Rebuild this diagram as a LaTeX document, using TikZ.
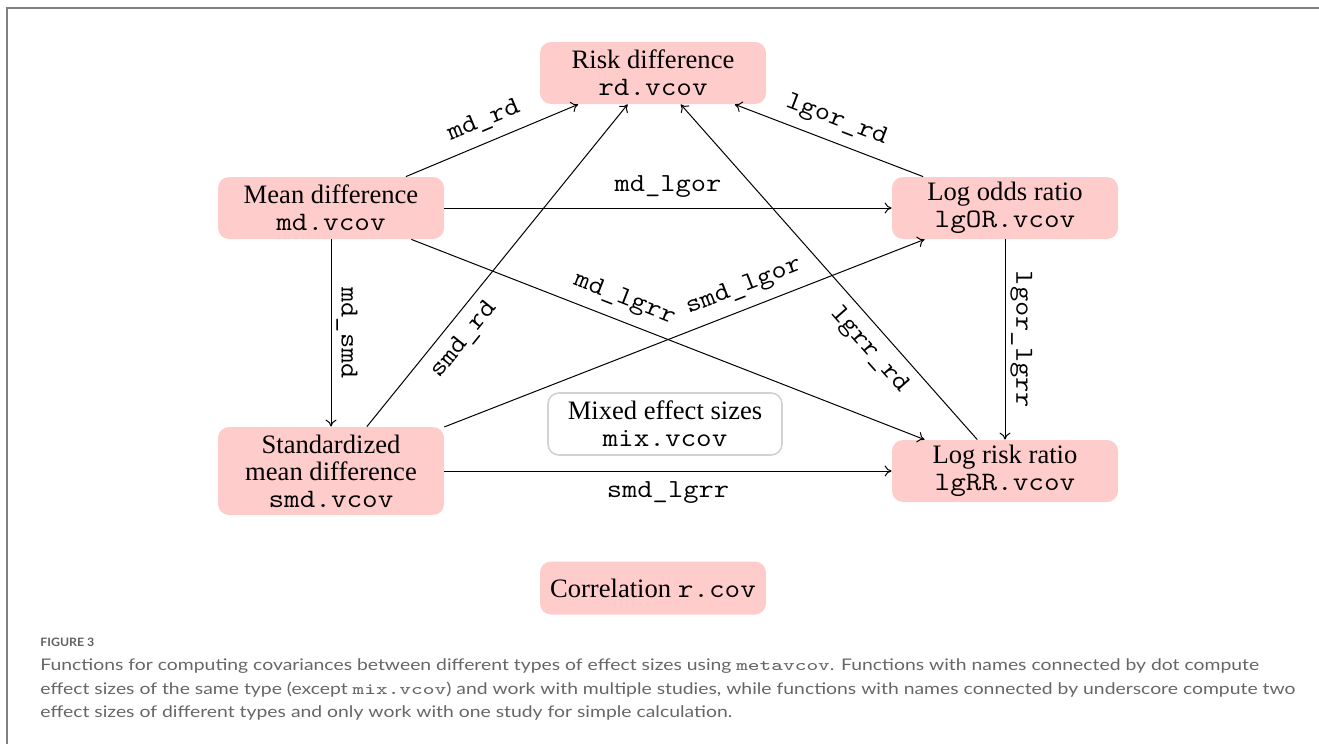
\documentclass[tikz,border=0pt]{standalone}
\usepackage{fontspec}
\usepackage{graphicx}
\setmainfont{Liberation Serif}
\setmonofont{Latin Modern Mono}[FakeStretch=1.14]
\newfontfamily\capfont{Lato}
\usetikzlibrary{arrows.meta}
\newlength\capwidth
\newlength\figwidth
\newcommand\captextsize{\capfont\fontsize{8}{10}\selectfont}
\newcommand\figtextsize{\capfont\bfseries\fontsize{5.8}{7}\selectfont}
\begin{document}
\settowidth\capwidth{\captextsize effect sizes of the same type (except \texttt{mix.vcov}) and work with multiple studies, while functions with names connected by underscore compute two}
\pgfmathsetmacro\capfac{627.5/\capwidth}
\settowidth\figwidth{\figtextsize FIGURE 3}
\pgfmathsetmacro\figfac{27/\figwidth}
\begin{tikzpicture}[x=0.5pt,y=-0.5pt,
  es/.style={rectangle, rounded corners=5.5pt, fill=red!20, minimum width=113pt,
    minimum height=31pt, inner ysep=2pt, align=center,
    font=\fontsize{13.3}{13.5}\selectfont},
  mixbox/.style={es, fill=white, draw=gray!35, line width=0.8pt, minimum width=117pt},
  conn/.style={line width=0.5pt, -{To[length=3.5pt,width=5.5pt]}},
  lab/.style={font=\fontsize{13}{13}\selectfont\ttfamily, inner sep=5pt},
  vlab/.style={lab, inner sep=2.5pt, rotate=-90, anchor=south},
  capt/.style={anchor=base west, inner sep=0pt, text=black!60, font=\captextsize},
]
\useasboundingbox (0,0) rectangle (1319,744);
\draw[gray, line width=1pt] (6.5,744) -- (6.5,7.5) -- (1319,7.5);

\node[es] (rd) at (653,73) {Risk difference\\\texttt{rd.vcov}};
\node[es] (md) at (331,208) {Mean difference\\\texttt{md.vcov}};
\node[es] (lgor) at (1005,208) {Log odds ratio\\\texttt{lgOR.vcov}};
\node[es, minimum height=44pt] (smd) at (331,471) {Standardized\\mean difference\\\texttt{smd.vcov}};
\node[es] (lgrr) at (1005,471) {Log risk ratio\\\texttt{lgRR.vcov}};
\node[mixbox] (mix) at (665,424) {Mixed effect sizes\\\texttt{mix.vcov}};
\node[es, minimum height=26.5pt] (r) at (653,588) {Correlation \texttt{r.cov}};

\draw[conn] (md) -- node[lab, above, sloped] {md\_rd} (rd);
\draw[conn] (md) -- node[lab, above] {md\_lgor} (lgor);
\draw[conn] (md) -- node[lab, above, sloped, pos=0.4] {md\_lgrr} (lgrr);
\draw[conn] (md) -- node[vlab] {md\_smd} (smd);
\draw[conn] (smd) -- node[lab, below, sloped, pos=0.31] {smd\_rd} (rd);
\draw[conn] (smd) -- node[lab, above, sloped, pos=0.64] {smd\_lgor} (lgor);
\draw[conn] (smd) -- node[lab, below] {smd\_lgrr} (lgrr);
\draw[conn] (lgor) -- node[lab, above, sloped] {lgor\_rd} (rd);
\draw[conn] (lgrr) -- node[lab, below, sloped, pos=0.31] {lgrr\_rd} (rd);
\draw[conn] (lgor) -- node[vlab] {lgor\_lgrr} (lgrr);

\node[anchor=base west, inner sep=0pt, text=black!62, font=\figtextsize] (fig) at (40,646) {\scalebox{\figfac}[1]{FIGURE 3}};
\node[capt] (c1) at (40,670) {\scalebox{\capfac}[1]{Functions for computing covariances between different types of effect sizes using \texttt{metavcov}. Functions with names connected by dot compute}};
\node[capt] (c2) at (40,694) {\scalebox{\capfac}[1]{effect sizes of the same type (except \texttt{mix.vcov}) and work with multiple studies, while functions with names connected by underscore compute two}};
\node[capt] (c3) at (40,717) {\scalebox{\capfac}[1]{effect sizes of different types and only work with one study for simple calculation.}};
\end{tikzpicture}
\end{document}
